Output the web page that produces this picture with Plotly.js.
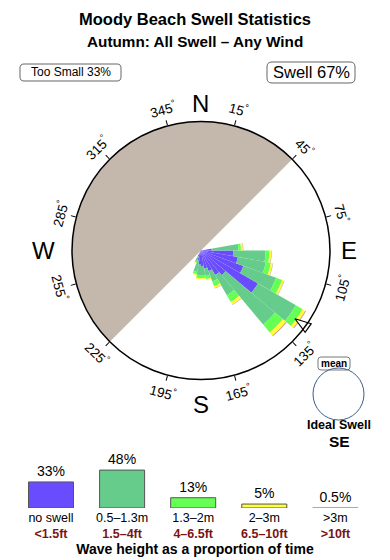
<!DOCTYPE html>
<html><head><meta charset="utf-8">
<script src="https://cdn.plot.ly/plotly-3.0.1.min.js"></script>
<style>html,body{margin:0;padding:0;background:#fff}#chart{width:390px;height:560px}</style>
</head><body><div id="chart"></div>
<script>
// ---- data ----
const directions = [85, 95, 105, 115, 125, 135, 145, 155, 165, 175, 185, 195, 205];
const noSwell   = [8, 25, 29, 35, 51, 25, 22, 17, 14, 12, 11, 8, 5];
const h05to13   = [21, 25, 22, 27, 34, 50, 18, 8.5, 6, 7, 8, 9, 4];
const h13to2    = [2, 3, 4, 5, 6, 8, 6, 4, 2.5, 2.5, 2.5, 1.5, 1];
const h2to3     = [1.5, 1.5, 1.5, 1.5, 2.3, 3, 2.3, 1.5, 0.8, 0.8, 0.8, 0.8, 0.5];
const hOver3    = [0.4, 0.4, 0.4, 0.4, 0.8, 0.8, 0.4, 0.3, 0, 0, 0, 0, 0];
const landDir = [315];
const landR = [100];
const meanDir = [126];
const meanR = [90];
const compassTicks = [15, 45, 75, 105, 135, 165, 195, 225, 255, 285, 315, 345];
const compassLetters = ['N', 'E', 'S', 'W'];
const compassLetterDir = [0, 90, 180, 270];

const legendNames = ['no swell', '0.5\u20131.3m', '1.3\u20132m', '2\u20133m', '&gt;3m'];
const legendFeet = ['&lt;1.5ft', '1.5\u20134ft', '4\u20136.5ft', '6.5\u201310ft', '&gt;10ft'];
const legendPct = [33, 48, 13, 5, 0.5];
const legendPctText = ['33%', '48%', '13%', '5%', '0.5%'];
const colors = ['#6a4cff', '#66cc8c', '#66ff55', '#ffff33', '#c8a49c'];

// ---- geometry helpers (pixel -> paper) ----
const W = 390, H = 560;
const px = x => x / W, py = y => 1 - y / H;
const CX = 201, CY = 250.5, RAD = 129;
function roundRect(x0, y0, x1, y1, r) {
  const P = (x, y) => px(x).toFixed(5) + ',' + py(y).toFixed(5);
  return 'M' + P(x0 + r, y0) + ' L' + P(x1 - r, y0) + ' Q' + P(x1, y0) + ' ' + P(x1, y0 + r) +
    ' L' + P(x1, y1 - r) + ' Q' + P(x1, y1) + ' ' + P(x1 - r, y1) +
    ' L' + P(x0 + r, y1) + ' Q' + P(x0, y1) + ' ' + P(x0, y1 - r) +
    ' L' + P(x0, y0 + r) + ' Q' + P(x0, y0) + ' ' + P(x0 + r, y0) + ' Z';
}
const FONT = '"Liberation Sans", Arial, Helvetica, sans-serif';

// ---- traces ----
const traces = [];
traces.push({type: 'barpolar', r: landR, theta: landDir, width: [180], marker: {color: '#c4b8ad', line: {width: 0}}, hoverinfo: 'skip', showlegend: false});
[noSwell, h05to13, h13to2, h2to3, hOver3].forEach((vals, i) => {
  traces.push({type: 'barpolar', r: vals, theta: directions, width: directions.map(() => 10),
    marker: {color: colors[i], line: {width: 0}}, showlegend: false, hoverinfo: 'skip'});
});
traces.push({type: 'scatterpolar', mode: 'markers', r: meanR, theta: meanDir,
  marker: {symbol: 'arrow', size: 17, angle: -55, color: '#ffffff', line: {color: '#000', width: 1.2}},
  showlegend: false, hoverinfo: 'skip'});

traces.push({type: 'bar', x: [0, 1, 2, 3, 4], y: legendPct, width: 0.633,
  marker: {color: colors, line: {color: ['#555', '#555', '#555', '#555', '#b8a09a'], width: 1}},
  text: legendPctText, texttemplate: '%{text}', textposition: 'outside', cliponaxis: false,
  textfont: {size: 14, color: '#000', family: FONT}, showlegend: false, hoverinfo: 'skip'});

// ---- annotations ----
const ann = [];
compassTicks.forEach(d => {
  const a = d * Math.PI / 180, r = 146;
  const x = CX + r * Math.sin(a), y = CY - r * Math.cos(a);
  let ang = (d > 90 && d < 270) ? d - 180 : (d > 180 ? d - 360 : d);
  ann.push({xref: 'paper', yref: 'paper', x: px(x), y: py(y), xanchor: 'center', yanchor: 'middle',
    text: d + '<sup>\u00b0</sup>', showarrow: false, textangle: ang, font: {size: 13.5, color: '#000'}});
});
const letterR = [147, 148, 154, 158];
compassLetters.forEach((L, i) => {
  const a = compassLetterDir[i] * Math.PI / 180, r = letterR[i];
  ann.push({xref: 'paper', yref: 'paper', x: px(CX + r * Math.sin(a)), y: py(CY - r * Math.cos(a)),
    xanchor: 'center', yanchor: 'middle', text: L, showarrow: false, font: {size: 24, color: '#000'}});
});
ann.push({xref: 'paper', yref: 'paper', x: 0.5, y: py(42), xanchor: 'center', yanchor: 'middle',
  text: '<b>Autumn: All Swell \u2013 Any Wind</b>', showarrow: false, font: {size: 15.3, color: '#000'}});
ann.push({xref: 'paper', yref: 'paper', x: px(70.5), y: py(72.5), xanchor: 'center', yanchor: 'middle',
  text: 'Too Small 33%', showarrow: false, font: {size: 12, color: '#000'}});
ann.push({xref: 'paper', yref: 'paper', x: px(311), y: py(72.5), xanchor: 'center', yanchor: 'middle',
  text: 'Swell 67%', showarrow: false, font: {size: 16.5, color: '#000'}});
ann.push({xref: 'paper', yref: 'paper', x: px(334), y: py(363.5), xanchor: 'center', yanchor: 'middle',
  text: '<b>mean</b>', showarrow: false, font: {size: 10, color: '#000'}});
ann.push({xref: 'paper', yref: 'paper', x: px(339), y: py(425), xanchor: 'center', yanchor: 'middle',
  text: '<b>Ideal Swell</b>', showarrow: false, font: {size: 12.5, color: '#000'}});
ann.push({xref: 'paper', yref: 'paper', x: px(339), y: py(441), xanchor: 'center', yanchor: 'middle',
  text: '<b>SE</b>', showarrow: false, font: {size: 15.5, color: '#000'}});

const shapes = [
  {type: 'path', xref: 'paper', yref: 'paper', path: roundRect(20, 64, 121, 81, 4), line: {color: '#666', width: 1}},
  {type: 'path', xref: 'paper', yref: 'paper', path: roundRect(267, 62, 355, 83, 5), line: {color: '#666', width: 1}},
  {type: 'path', xref: 'paper', yref: 'paper', path: roundRect(318, 357, 350, 370, 3), line: {color: '#777', width: 1}},
  {type: 'circle', xref: 'paper', yref: 'paper', x0: px(313), x1: px(364), y0: py(420), y1: py(368),
    line: {color: '#3d5f88', width: 1}, fillcolor: 'rgba(255,255,255,0)'}
];

const layout = {
  width: W, height: H, autosize: false,
  margin: {l: 0, r: 0, t: 0, b: 0},
  paper_bgcolor: '#fff', plot_bgcolor: '#fff',
  font: {family: FONT, color: '#000'},
  title: {text: '<b>Moody Beach Swell Statistics</b>', x: 0.5, xanchor: 'center', xref: 'paper',
    y: py(19), yanchor: 'middle', yref: 'container', font: {size: 16.5, color: '#000'}},
  polar: {
    domain: {x: [px(CX - RAD), px(CX + RAD)], y: [py(CY + RAD), py(CY - RAD)]},
    bgcolor: '#fff', barmode: 'stack', hole: 0,
    radialaxis: {range: [0, 100], visible: false, showgrid: false},
    angularaxis: {rotation: 90, direction: 'clockwise', tickmode: 'array', tickvals: compassTicks,
      ticks: 'outside', ticklen: 5, tickcolor: '#000', showticklabels: false, showgrid: false,
      showline: true, linecolor: '#000', linewidth: 1.5}
  },
  xaxis: {domain: [0, 1], range: [-51 / 71.1, (390 - 51) / 71.1], showgrid: false, zeroline: false,
    showline: false, ticks: '', tickmode: 'array', tickvals: [0, 1, 2, 3, 4],
    ticktext: legendNames.map((n, i) => n + '<br><b><span style="color:#7a1414">' + legendFeet[i] + '</span></b>'),
    tickfont: {size: 12.5, color: '#000'}, fixedrange: true,
    title: {text: '<b>Wave height as a proportion of time</b>', font: {size: 14, color: '#000'}, standoff: 1}},
  yaxis: {domain: [py(508), py(508) + 0.0846], range: [0, 60], visible: false, fixedrange: true},
  annotations: ann, shapes: shapes
};

Plotly.newPlot('chart', traces, layout, {displayModeBar: false, staticPlot: true});
</script></body></html>
